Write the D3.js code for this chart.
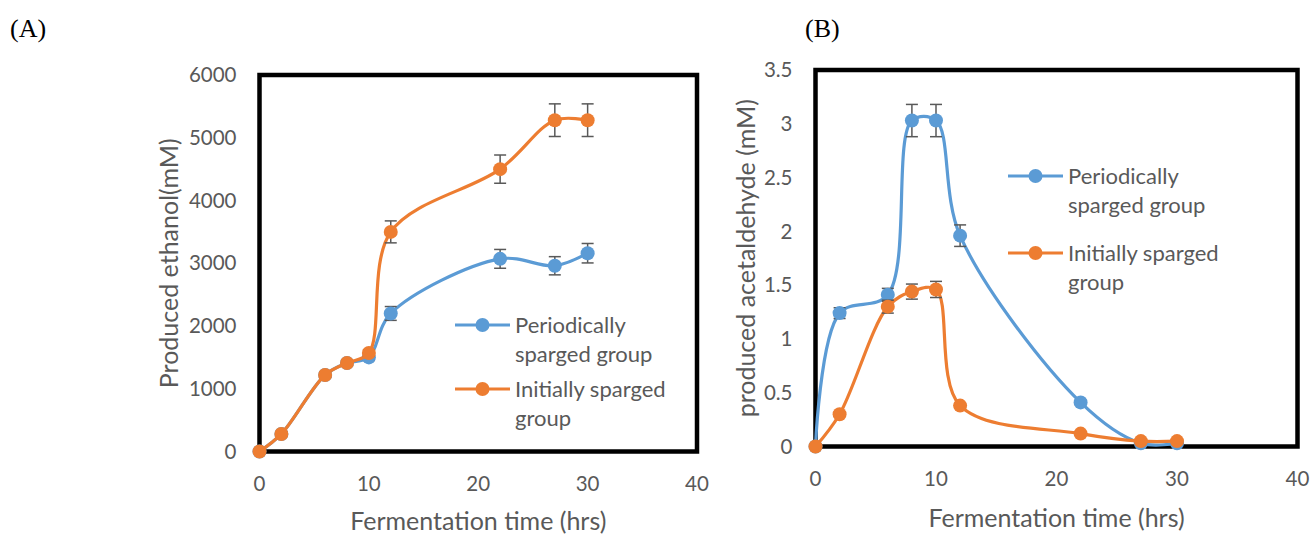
<!DOCTYPE html>
<html>
<head>
<meta charset="utf-8">
<script src="https://cdn.jsdelivr.net/npm/d3@7"></script>
<style>
  body { margin: 0; background: #fff; }
  svg { display: block; }
  text { font-family: Lato, "Open Sans", sans-serif; fill: #595959; }
</style>
</head>
<body>
<div id="chart"></div>
<script>
// sampling times (hrs)
var times = [0, 2, 6, 8, 10, 12, 22, 27, 30];

// (A) produced ethanol (mM)
var ethanolPeriodic    = [0, 280, 1220, 1410, 1500, 2200, 3070, 2960, 3160];
var ethanolPeriodicErr = [0, 30, 40, 40, 50, 110, 150, 145, 155];
var ethanolInitial     = [0, 280, 1220, 1410, 1570, 3500, 4500, 5280, 5280];
var ethanolInitialErr  = [0, 30, 40, 40, 50, 175, 225, 260, 260];

// (B) produced acetaldehyde (mM)
var acetPeriodic    = [0, 1.24, 1.41, 3.03, 3.03, 1.96, 0.41, 0.03, 0.03];
var acetPeriodicErr = [0, 0.05, 0.06, 0.15, 0.15, 0.10, 0.02, 0.01, 0.01];
var acetInitial     = [0, 0.30, 1.30, 1.44, 1.46, 0.38, 0.12, 0.05, 0.05];
var acetInitialErr  = [0, 0.02, 0.06, 0.07, 0.075, 0.02, 0.01, 0.01, 0.01];

var xTicks = [0, 10, 20, 30, 40];
var ethanolTicks = [0, 1000, 2000, 3000, 4000, 5000, 6000];
var acetTicks = [0, 0.5, 1, 1.5, 2, 2.5, 3, 3.5];

var seriesNames = [["Periodically", "sparged group"], ["Initially sparged", "group"]];
var colors = ["#5B9BD5", "#ED7D31"];

var svg = d3.select("#chart").append("svg").attr("width", 1312).attr("height", 534);

drawPanel({
    tag: "(A)", tagX: 10, tagY: 37,
    left: 259.5, right: 697, top: 75, bottom: 451.5,
    yMax: 6000, yTicks: ethanolTicks,
    yTitle: "Produced ethanol(mM)", yTitleX: 169, xTitleY: 530,
    series: [
        {values: ethanolPeriodic, err: ethanolPeriodicErr},
        {values: ethanolInitial, err: ethanolInitialErr}
    ],
    legendX: 455, legendY: [325, 389]
});

drawPanel({
    tag: "(B)", tagX: 805, tagY: 37,
    left: 815.5, right: 1297.5, top: 70, bottom: 446.5,
    yMax: 3.5, yTicks: acetTicks,
    yTitle: "produced acetaldehyde (mM)", yTitleX: 746, xTitleY: 527,
    series: [
        {values: acetPeriodic, err: acetPeriodicErr},
        {values: acetInitial, err: acetInitialErr}
    ],
    legendX: 1008, legendY: [176, 253]
});

function drawPanel(p) {
    var x = d3.scaleLinear().domain([0, 40]).range([p.left, p.right]);
    var y = d3.scaleLinear().domain([0, p.yMax]).range([p.bottom, p.top]);

    svg.append("text").attr("x", p.tagX).attr("y", p.tagY)
        .style("font-family", "'Liberation Serif', 'Times New Roman', serif")
        .style("font-size", "26px").style("fill", "#000")
        .text(p.tag);

    var g = svg.append("g");

    // plot area border
    g.append("rect")
        .attr("x", x(0)).attr("y", y(p.yMax))
        .attr("width", x(40) - x(0)).attr("height", y(0) - y(p.yMax))
        .attr("fill", "none").attr("stroke", "#000").attr("stroke-width", 4.5);

    // tick labels
    g.selectAll(".xt").data(xTicks).enter().append("text")
        .attr("x", function(d) { return x(d); })
        .attr("y", y(0) + 32).attr("dy", "0.35em")
        .attr("text-anchor", "middle").style("font-size", "20.5px")
        .text(function(d) { return d; });

    g.selectAll(".yt").data(p.yTicks).enter().append("text")
        .attr("x", x(0) - 23)
        .attr("y", function(d) { return y(d); }).attr("dy", "0.35em")
        .attr("text-anchor", "end").style("font-size", "20.5px")
        .text(function(d) { return d; });

    // axis titles
    g.append("text")
        .attr("x", (x(0) + x(40)) / 2).attr("y", p.xTitleY)
        .attr("text-anchor", "middle").style("font-size", "25px")
        .text("Fermentation time (hrs)");

    g.append("text")
        .attr("transform", "translate(" + p.yTitleX + "," + (y(0) + y(p.yMax)) / 2 + ") rotate(-90)")
        .attr("dy", "0.35em").attr("text-anchor", "middle").style("font-size", "25px")
        .text(p.yTitle);

    var line = d3.line()
        .x(function(d) { return x(d[0]); })
        .y(function(d) { return y(d[1]); })
        .curve(d3.curveCatmullRom.alpha(0.5));

    p.series.forEach(function(s, i) {
        var pts = times.map(function(t, j) { return [t, s.values[j], s.err[j]]; });
        var sg = g.append("g");

        sg.append("path").datum(pts).attr("d", line)
            .attr("fill", "none").attr("stroke", colors[i]).attr("stroke-width", 3.2);

        var eb = sg.selectAll(".eb").data(pts.filter(function(d) { return d[2] > 0; }))
            .enter().append("g").attr("stroke", "#595959").attr("stroke-width", 1.5);
        eb.append("line")
            .attr("x1", function(d) { return x(d[0]); }).attr("x2", function(d) { return x(d[0]); })
            .attr("y1", function(d) { return y(d[1] - d[2]); })
            .attr("y2", function(d) { return y(d[1] + d[2]); });
        [-1, 1].forEach(function(sign) {
            eb.append("line")
                .attr("x1", function(d) { return x(d[0]) - 6; })
                .attr("x2", function(d) { return x(d[0]) + 6; })
                .attr("y1", function(d) { return y(d[1] + sign * d[2]); })
                .attr("y2", function(d) { return y(d[1] + sign * d[2]); });
        });

        sg.selectAll(".pt").data(pts).enter().append("circle")
            .attr("cx", function(d) { return x(d[0]); })
            .attr("cy", function(d) { return y(d[1]); })
            .attr("r", 7).attr("fill", colors[i]);

        // legend entry
        var ly = p.legendY[i];
        var lg = g.append("g");
        lg.append("line").attr("x1", p.legendX).attr("x2", p.legendX + 55)
            .attr("y1", ly).attr("y2", ly)
            .attr("stroke", colors[i]).attr("stroke-width", 3.2);
        lg.append("circle").attr("cx", p.legendX + 27.5).attr("cy", ly)
            .attr("r", 7).attr("fill", colors[i]);
        seriesNames[i].forEach(function(txt, k) {
            lg.append("text").attr("x", p.legendX + 60).attr("y", ly + k * 29.5)
                .attr("dy", "0.35em").style("font-size", "22px").text(txt);
        });
    });
}
</script>
</body>
</html>
